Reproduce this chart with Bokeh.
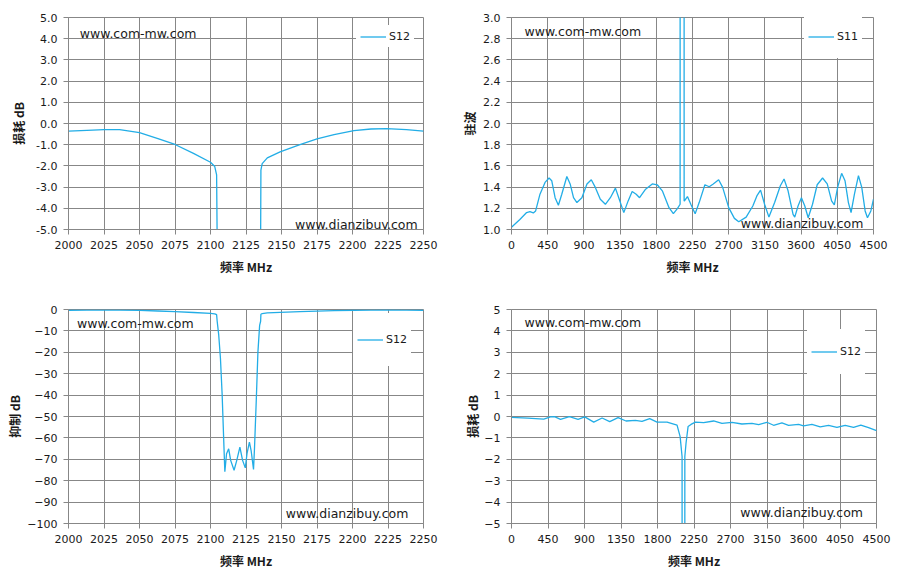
from bokeh.plotting import figure
from bokeh.models import (FixedTicker, PrintfTickFormatter, Label, Legend, LegendItem, Range1d)
from bokeh.layouts import column, row
from bokeh.embed import file_html
from bokeh.resources import INLINE

# ---------------- data ----------------
# narrow-band S12 (2000-2250 MHz), shared by panel 1 (loss) and panel 3 (rejection)
nb_freq = [2000, 2013, 2025, 2036, 2050, 2063, 2075, 2088, 2100, 2103, 2104.3, 2104.7,
           2105.8, 2107, 2108.2, 2109.4, 2110.1, 2111.3, 2112.8, 2114.2, 2116.6, 2118.5,
           2120.7, 2122.6, 2124.5, 2125.7, 2127.4, 2128.6, 2130.3, 2131, 2132.2, 2133.4,
           2134.6, 2135.3, 2135.5, 2136.4, 2140, 2149, 2163, 2175, 2187, 2201, 2213,
           2224, 2238, 2250]
nb_s12 = [-0.36, -0.32, -0.29, -0.29, -0.43, -0.71, -0.99, -1.41, -1.83, -2.03, -2.42, -5.5,
          -12.0, -22.8, -39.7, -62.8, -75.8, -67.4, -65.1, -70.5, -75.1, -70.5,
          -64.3, -70.5, -74.0, -67.4, -62.0, -65.9, -74.7, -64.6, -43.0, -19.8,
          -7.4, -5.5, -2.2, -1.89, -1.62, -1.34, -1.0, -0.72, -0.53, -0.34, -0.26,
          -0.24, -0.29, -0.36]

# wide-band S11 VSWR (0-4500 MHz)
wb_freq_s11 = [0, 104, 188, 229, 271, 300, 354, 417, 467, 500, 542, 583, 625, 688, 729, 771,
               813, 875, 938, 992, 1042, 1104, 1167, 1229, 1292, 1333, 1396, 1450, 1500, 1550,
               1592, 1667, 1750, 1812, 1875, 1958, 2012, 2062, 2096, 2100, 2140, 2146, 2150,
               2187, 2229, 2283, 2333, 2404, 2458, 2508, 2575, 2625, 2700, 2771, 2825, 2917,
               3000, 3050, 3096, 3146, 3200, 3271, 3342, 3388, 3438, 3500, 3521, 3562, 3604,
               3646, 3688, 3742, 3800, 3867, 3925, 3979, 4013, 4054, 4104, 4146, 4188, 4221,
               4263, 4313, 4354, 4396, 4425, 4467, 4500]
wb_vswr = [1.022, 1.095, 1.16, 1.168, 1.156, 1.175, 1.333, 1.444, 1.486, 1.46, 1.30, 1.229,
           1.333, 1.50, 1.43, 1.30, 1.254, 1.30, 1.43, 1.47, 1.397, 1.286, 1.238, 1.30, 1.39,
           1.30, 1.159, 1.27, 1.359, 1.333, 1.30, 1.38, 1.43, 1.422, 1.365, 1.206, 1.149,
           1.197, 1.238, 40.0, 40.0, 1.27, 1.27, 1.311, 1.238, 1.149, 1.254, 1.422, 1.403,
           1.43, 1.47, 1.397, 1.206, 1.105, 1.073, 1.117, 1.222, 1.317, 1.371, 1.238, 1.117,
           1.254, 1.413, 1.476, 1.365, 1.143, 1.117, 1.222, 1.30, 1.222, 1.111, 1.238, 1.422,
           1.486, 1.43, 1.27, 1.232, 1.397, 1.53, 1.46, 1.254, 1.159, 1.333, 1.508, 1.397,
           1.175, 1.111, 1.175, 1.286]

# wide-band S12 loss (0-4500 MHz)
wb_freq_s12 = [0, 200, 398, 480, 530, 604, 714, 821, 903, 1014, 1117, 1211, 1314, 1412, 1527,
               1609, 1704, 1794, 1918, 2041, 2079, 2103, 2110, 2135, 2137, 2152, 2177, 2213,
               2267, 2369, 2492, 2595, 2718, 2841, 2964, 3047, 3149, 3231, 3334, 3416, 3539,
               3601, 3704, 3806, 3909, 4012, 4114, 4217, 4307, 4402, 4500]
wb_s12 = [-0.04, -0.08, -0.12, -0.02, -0.01, -0.13, -0.01, -0.13, -0.02, -0.26, -0.07, -0.24,
          -0.05, -0.21, -0.18, -0.23, -0.10, -0.26, -0.26, -0.40, -0.94, -1.87, -70.0, -70.0,
          -1.87, -1.24, -0.47, -0.37, -0.26, -0.29, -0.21, -0.32, -0.27, -0.35, -0.32, -0.38,
          -0.27, -0.41, -0.30, -0.41, -0.37, -0.44, -0.37, -0.49, -0.41, -0.51, -0.41, -0.51,
          -0.40, -0.52, -0.66]

nb_xticks = list(range(2000, 2251, 25))
wb_xticks = list(range(0, 4501, 450))
p1_yticks = [-5, -4, -3, -2, -1, 0, 1, 2, 3, 4, 5]
p2_yticks = [1.0, 1.2, 1.4, 1.6, 1.8, 2.0, 2.2, 2.4, 2.6, 2.8, 3.0]
p3_yticks = list(range(-100, 1, 10))
p4_yticks = list(range(-5, 6, 1))

LINE = "#22ADE6"
GRID = "#878787"
TXT = "#1a1a1a"
FONT = "DejaVu Sans"
CJK = "Noto Sans CJK SC"


def make(size, xr, yr, xticks, yticks, yfmt, borders, ylab, ystand, xs, ys, legend_name,
         leg_loc, leg_h, marks):
    l, r, t, b = borders
    p = figure(width=size[0], height=size[1], output_backend="svg", toolbar_location=None,
               x_range=Range1d(*xr), y_range=Range1d(*yr),
               min_border_left=l, min_border_right=r, min_border_top=t, min_border_bottom=b)
    p.background_fill_color = "white"
    p.border_fill_color = "white"
    p.outline_line_color = GRID
    p.outline_line_width = 1
    for g, tk in ((p.xgrid, xticks), (p.ygrid, yticks)):
        g.ticker = FixedTicker(ticks=tk)
        g.grid_line_color = GRID
        g.grid_line_width = 1
    p.xaxis.ticker = FixedTicker(ticks=xticks)
    p.yaxis.ticker = FixedTicker(ticks=yticks)
    if yfmt:
        p.yaxis.formatter = PrintfTickFormatter(format=yfmt)
    for ax in (p.xaxis[0], p.yaxis[0]):
        ax.axis_line_color = GRID
        ax.major_tick_line_color = GRID
        ax.major_tick_out = 5
        ax.major_tick_in = 0
        ax.minor_tick_line_color = None
        ax.major_label_standoff = 6
        ax.major_label_text_font = FONT
        ax.major_label_text_font_size = "11px"
        ax.major_label_text_color = TXT
        ax.axis_label_text_font = CJK
        ax.axis_label_text_font_style = "bold"
        ax.axis_label_text_font_size = "12px"
        ax.axis_label_text_color = TXT
    p.xaxis.axis_label = "频率 MHz"
    p.xaxis.axis_label_standoff = 6
    p.yaxis.axis_label = ylab
    p.yaxis.axis_label_standoff = ystand

    r_line = p.line(xs, ys, line_color=LINE, line_width=1.3)

    for (tx, ty, txt) in marks:
        p.add_layout(Label(x=tx, y=ty, text=txt, text_baseline="middle",
                           text_font=FONT, text_font_size="12.5px", text_color=TXT))

    leg = Legend(items=[LegendItem(label=legend_name, renderers=[r_line])],
                 location=leg_loc, background_fill_color="white", background_fill_alpha=1.0,
                 border_line_alpha=0, padding=4, spacing=0, margin=0,
                 glyph_width=26, glyph_height=leg_h, label_standoff=3,
                 label_text_font=FONT, label_text_font_size="11px",
                 label_text_color=TXT, label_height=14)
    p.add_layout(leg, "center")
    return p


p1 = make((450, 291), (2000, 2250), (-5, 5), nb_xticks, p1_yticks, "%.1f", (68, 27, 15, 62),
          "损耗 dB", 6, nb_freq, nb_s12, "S12", (288, 182), 13,
          [(2008, 4.24, "www.com-mw.com"), (2159.5, -4.78, "www.dianzibuy.com")])
p2 = make((450, 291), (0, 4500), (1.0, 3.0), wb_xticks, p2_yticks, "%.1f", (61, 27, 17, 60),
          "驻波", 2, wb_freq_s11, wb_vswr, "S11", (293, 171), 35,
          [(162, 2.866, "www.com-mw.com"), (2849, 1.06, "www.dianzibuy.com")])
p3 = make((450, 290), (2000, 2250), (-100, 0), nb_xticks, p3_yticks, None, (68, 27, 16, 58),
          "抑制 dB", 1, nb_freq, nb_s12, "S12", (285, 157), 45,
          [(2006, -6.35, "www.com-mw.com"), (2153, -95.4, "www.dianzibuy.com")])
p4 = make((450, 290), (0, 4500), (-5, 5), wb_xticks, p4_yticks, None, (61, 24, 18, 57),
          "损耗 dB", 0, wb_freq_s12, wb_s12, "S12", (296, 149), 37,
          [(160, 4.41, "www.com-mw.com"), (2821, -4.50, "www.dianzibuy.com")])

layout = column(row(p1, p2), row(p3, p4))
open("out.html", "w").write(file_html(layout, INLINE))
